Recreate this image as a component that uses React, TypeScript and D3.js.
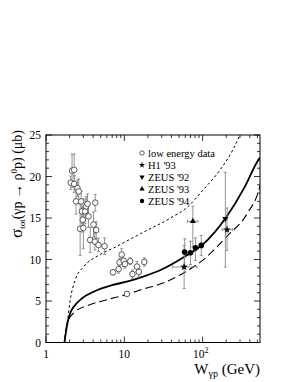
import React from "react";
import * as d3 from "d3";

// curves (W in GeV, sigma in microbarn)
const solidCurve: [number, number][] = [
  [1.72, 0], [1.78, 1.0], [1.84, 1.9], [2.03, 3.5], [2.35, 4.5], [2.87, 5.3],
  [4.25, 6.2], [6.95, 6.9], [11.4, 7.4], [18.2, 8.0], [30, 8.8], [60, 10.4],
  [100, 11.8], [200, 15.1], [338, 18.6], [500, 21.8], [540, 22.3],
];
const dashedCurve: [number, number][] = [
  [1.72, 0], [1.8, 1.5], [1.93, 2.7], [2.35, 3.7], [3.49, 4.5], [5.7, 5.1],
  [10.8, 5.8], [18.2, 6.5], [30, 7.1], [60, 8.5], [100, 9.9], [200, 12.7],
  [374, 15.6], [530, 18.6], [540, 18.9],
];
const dottedCurve: [number, number][] = [
  [1.72, 0], [1.8, 1.5], [1.9, 2.9], [2.03, 5.0], [2.35, 7.5], [3.0, 9.1],
  [4.7, 10.5], [7.7, 11.5], [16, 13.1], [38.9, 15.0], [63.5, 16.3],
  [104, 18.5], [170, 20.9], [252, 23.5], [308, 25.3],
];

// low energy data: W, sigma, error
const lowW = [
  2.07, 2.15, 2.29, 2.29, 2.42, 2.52, 2.62, 2.73, 2.81, 2.87, 2.95, 3.0,
  3.16, 3.26, 3.39, 3.49, 3.67, 4.04, 4.25, 4.38, 4.2, 4.68, 5.6, 7.16,
  8.46, 8.7, 9.24, 9.8, 10.2, 10.8, 11.9, 12.7, 14.5, 15.3, 18.0,
];
const lowSigma = [
  19.25, 20.7, 20.8, 19.1, 17.0, 18.6, 18.2, 13.7, 17.0, 15.8, 14.8, 13.8,
  15.8, 16.4, 16.7, 15.2, 12.35, 14.2, 16.85, 13.55, 12.15, 11.75, 11.6, 8.45,
  8.85, 9.65, 10.6, 9.85, 9.45, 5.85, 9.8, 8.25, 9.15, 8.5, 9.7,
];
const lowErr = [
  0.8, 2.0, 1.9, 1.0, 1.5, 1.0, 1.5, 3.2, 1.2, 1.5, 1.5, 2.5,
  1.5, 1.2, 1.2, 1.3, 1.5, 1.5, 1.0, 1.0, 1.0, 0.8, 1.0, 0.3,
  0.5, 0.5, 0.7, 0.7, 0.5, 0.2, 0.4, 0.5, 0.6, 0.6, 0.5,
];

// HERA points: W, sigma, sigma low, sigma high, W low, W high
type Hera = { w: number; s: number; lo: number; hi: number; wlo?: number; whi?: number };
const h1: Hera[] = [
  { w: 58, s: 9.1, lo: 6.5, hi: 11.7, wlo: 41, whi: 85 },
  { w: 205, s: 13.6, lo: 11.1, hi: 16.2, wlo: 178, whi: 240 },
];
const zeus92: Hera[] = [{ w: 195, s: 14.9, lo: 9.1, hi: 20.5 }];
const zeus93: Hera[] = [{ w: 75, s: 14.6, lo: 11.5, hi: 16.4, wlo: 64, whi: 87 }];
const zeus94: Hera[] = [
  { w: 59, s: 10.9, lo: 9.3, hi: 12.5 },
  { w: 70, s: 10.8, lo: 9.4, hi: 12.2 },
  { w: 81, s: 11.4, lo: 9.9, hi: 12.6 },
  { w: 96, s: 11.7, lo: 10.5, hi: 12.9 },
];

const legendLabels = ["low energy data", "H1 '93", "ZEUS '92", "ZEUS '93", "ZEUS '94"];
const yTicks = [0, 5, 10, 15, 20, 25];

const W = 295;
const H = 382;
const m = { left: 46, right: 260, top: 135, bottom: 342.5 };
const font = "'Liberation Serif', 'Times New Roman', serif";

export default function App() {
  const x = d3.scaleLog().domain([1, 540]).range([m.left, m.right]);
  const y = d3.scaleLinear().domain([0, 25]).range([m.bottom, m.top]);

  const line = d3
    .line<[number, number]>()
    .x((d) => x(d[0]))
    .y((d) => y(d[1]))
    .curve(d3.curveMonotoneX);

  const minorX: number[] = [];
  for (let dec = 1; dec <= 100; dec *= 10)
    for (let k = 1; k <= 9; k++) if (dec * k <= 540) minorX.push(dec * k);
  const minorY = d3.range(0, 26, 1);

  const sym = (type: d3.SymbolType, size: number) => d3.symbol().type(type).size(size)()!;
  const star = sym(d3.symbolStar, 18);
  const tri = sym(d3.symbolTriangle, 16);

  const errBar = (p: Hera, key: string) => (
    <g key={key} stroke="#888" strokeWidth={0.9}>
      <line x1={x(p.w)} x2={x(p.w)} y1={y(p.lo)} y2={y(p.hi)} />
      <line x1={x(p.w) - 1.5} x2={x(p.w) + 1.5} y1={y(p.lo)} y2={y(p.lo)} />
      <line x1={x(p.w) - 1.5} x2={x(p.w) + 1.5} y1={y(p.hi)} y2={y(p.hi)} />
      {p.wlo !== undefined && (
        <>
          <line x1={x(p.wlo)} x2={x(p.whi!)} y1={y(p.s)} y2={y(p.s)} />
          <line x1={x(p.wlo)} x2={x(p.wlo)} y1={y(p.s) - 1.5} y2={y(p.s) + 1.5} />
          <line x1={x(p.whi!)} x2={x(p.whi!)} y1={y(p.s) - 1.5} y2={y(p.s) + 1.5} />
        </>
      )}
    </g>
  );

  const legY = [153, 165, 177, 189, 201];
  const legX = 142;

  return (
    <svg width={W} height={H} style={{ position: "absolute", left: 0, top: 0, background: "#fff" }} fontFamily={font}>
      <defs>
        <clipPath id="plot">
          <rect x={m.left} y={m.top} width={m.right - m.left} height={m.bottom - m.top} />
        </clipPath>
      </defs>

      {/* ticks */}
      <g stroke="#000" strokeWidth={0.8}>
        {minorX.map((v) => {
          const major = v === 1 || v === 10 || v === 100;
          const len = major ? 6 : 3;
          return (
            <g key={"xt" + v}>
              <line x1={x(v)} x2={x(v)} y1={m.bottom} y2={m.bottom - len} />
              <line x1={x(v)} x2={x(v)} y1={m.top} y2={m.top + len} />
            </g>
          );
        })}
        {minorY.map((v) => {
          const len = v % 5 === 0 ? 6 : 3;
          return (
            <g key={"yt" + v}>
              <line x1={m.left} x2={m.left + len} y1={y(v)} y2={y(v)} />
              <line x1={m.right} x2={m.right - len} y1={y(v)} y2={y(v)} />
            </g>
          );
        })}
      </g>

      <rect x={m.left} y={m.top} width={m.right - m.left} height={m.bottom - m.top} fill="none" stroke="#000" strokeWidth={1} />

      {/* tick labels */}
      <g fontSize={11.5} fill="#000">
        {yTicks.map((v) => (
          <text key={"yl" + v} x={m.left - 5} y={y(v) + 4} textAnchor="end">
            {v}
          </text>
        ))}
        <text x={x(1)} y={358} textAnchor="middle">1</text>
        <text x={x(10)} y={358} textAnchor="middle">10</text>
        <text x={x(100) - 2} y={358} textAnchor="middle">
          10<tspan dy={-5} fontSize={8}>2</tspan>
        </text>
      </g>

      {/* axis titles */}
      <text x={m.right} y={374} textAnchor="end" fontSize={15}>
        W<tspan dy={3} fontSize={10}>γp</tspan>
        <tspan dy={-3}> (GeV)</tspan>
      </text>
      <text transform="translate(22,184) rotate(-90)" textAnchor="middle" fontSize={14}>
        <tspan fontSize={17}>σ</tspan>
        <tspan dy={3} fontSize={9}>tot</tspan>
        <tspan dy={-3}>(γp → ρ</tspan>
        <tspan dy={-5} fontSize={9}>0</tspan>
        <tspan dy={5}>p) (μb)</tspan>
      </text>

      {/* curves */}
      <g clipPath="url(#plot)" fill="none" stroke="#000">
        <path d={line(dottedCurve)!} strokeWidth={1} strokeDasharray="2.5,2.5" />
        <path d={line(dashedCurve)!} strokeWidth={1.1} strokeDasharray="8,4" />
        <path d={line(solidCurve)!} strokeWidth={1.8} />
      </g>

      {/* low energy data */}
      <g>
        {lowW.map((w, i) => {
          const p: Hera = { w, s: lowSigma[i], lo: lowSigma[i] - lowErr[i], hi: lowSigma[i] + lowErr[i] };
          return errBar(p, "le" + i);
        })}
        {lowW.map((w, i) => (
          <circle key={"lc" + i} cx={x(w)} cy={y(lowSigma[i])} r={2.8} fill="#fff" stroke="#333" strokeWidth={0.8} />
        ))}
      </g>

      {/* HERA */}
      <g>
        {[...h1, ...zeus92, ...zeus93, ...zeus94].map((p, i) => errBar(p, "he" + i))}
        {h1.map((p, i) => (
          <path key={"h1" + i} d={star} transform={`translate(${x(p.w)},${y(p.s)})`} fill="#000" />
        ))}
        {zeus92.map((p, i) => (
          <path key={"z2" + i} d={tri} transform={`translate(${x(p.w)},${y(p.s)}) rotate(180)`} fill="#000" />
        ))}
        {zeus93.map((p, i) => (
          <path key={"z3" + i} d={tri} transform={`translate(${x(p.w)},${y(p.s)})`} fill="#000" />
        ))}
        {zeus94.map((p, i) => (
          <circle key={"z4" + i} cx={x(p.w)} cy={y(p.s)} r={2.8} fill="#000" />
        ))}
      </g>

      {/* legend */}
      <g fontSize={10.5}>
        <circle cx={legX} cy={legY[0]} r={2.2} fill="#fff" stroke="#333" strokeWidth={0.8} />
        <path d={sym(d3.symbolStar, 12)} transform={`translate(${legX},${legY[1]})`} />
        <path d={sym(d3.symbolTriangle, 12)} transform={`translate(${legX},${legY[2]}) rotate(180)`} />
        <path d={sym(d3.symbolTriangle, 12)} transform={`translate(${legX},${legY[3]})`} />
        <circle cx={legX} cy={legY[4]} r={2.2} fill="#000" />
        {legendLabels.map((t, i) => (
          <text key={t} x={legX + 6} y={legY[i] + 3.5}>
            {t}
          </text>
        ))}
      </g>
    </svg>
  );
}
